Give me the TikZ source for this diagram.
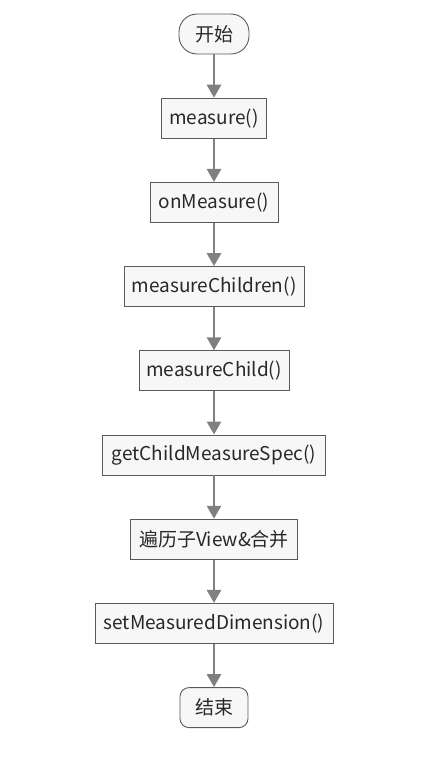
\documentclass[tikz,border=0pt]{standalone}
\usepackage{fontspec}
\setmainfont{Noto Sans CJK SC}
\usetikzlibrary{arrows.meta, positioning}
\definecolor{boxfill}{RGB}{247,247,247}
\definecolor{boxline}{RGB}{90,90,90}
\definecolor{arrgray}{RGB}{128,128,128}
\definecolor{txtgray}{RGB}{40,40,40}

\begin{document}
\begin{tikzpicture}[
    >={Triangle[width=14pt,length=13pt]},
    node distance=43.3pt,
    box/.style={draw=boxline, fill=boxfill, line width=0.9pt, minimum height=40pt,
                inner sep=0pt, text=txtgray, font=\fontsize{19}{23}\selectfont},
    term/.style={box, rounded corners=9pt},
    arr/.style={->, line width=2.7pt, arrgray},
]
\useasboundingbox (0,0) rectangle (446pt,-765pt);

\node[term, rounded corners=18pt, minimum width=70pt] (start) at (214pt,-34pt) {开始};
\node[box, minimum width=105pt, below=of start] (measure) {measure()};
\node[box, minimum width=128pt, below=of measure] (onmeasure) {onMeasure()};
\node[box, minimum width=180pt, below=of onmeasure] (children) {measureChildren()};
\node[box, minimum width=150pt, below=of children] (child) {measureChild()};
\node[box, minimum width=223pt, below=of child] (spec) {getChildMeasureSpec()};
\node[box, minimum width=167pt, below=of spec] (merge) {遍历子View\&合并};
\node[box, minimum width=238pt, below=of merge] (setdim) {setMeasuredDimension()};
\node[term, minimum width=68pt, below=of setdim] (stop) {结束};

% connectors
\draw[arr] (start) -- (measure);
\draw[arr] (measure) -- (onmeasure);
\draw[arr] (onmeasure) -- (children);
\draw[arr] (children) -- (child);
\draw[arr] (child) -- (spec);
\draw[arr] (spec) -- (merge);
\draw[arr] (merge) -- (setdim);
\draw[arr] (setdim) -- (stop);

\end{tikzpicture}
\end{document}
